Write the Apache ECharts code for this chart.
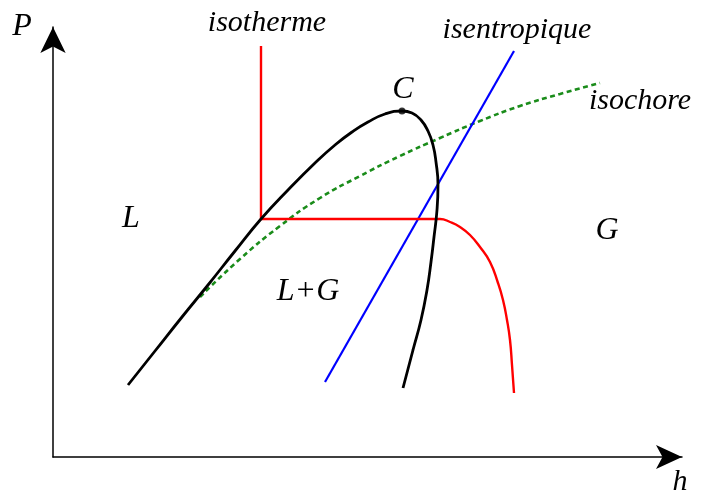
<!DOCTYPE html>
<html>
<head>
<meta charset="utf-8">
<script src="https://cdn.jsdelivr.net/npm/echarts@6/dist/echarts.min.js"></script>
<style>
  html, body { margin: 0; padding: 0; background: #fff; }
  #chart { width: 711px; height: 490px; }
</style>
</head>
<body>
<div id="chart"></div>
<script>
// Schematic pressure–enthalpy (P–h) diagram, arbitrary units.

// Saturation dome: liquid branch up to the critical point C, then vapour branch down.
const domeH = [75, 102, 129, 155, 182, 208, 235, 263, 282, 299, 315, 332, 349, 359, 368, 375, 380, 383, 385, 384, 381, 378, 374, 368, 360, 350];
const domeP = [72, 106, 140, 172, 206, 238, 267, 295, 312, 325, 335, 343, 346, 344, 337, 326, 312, 295, 272, 247, 220, 195, 167, 137, 107, 69];

// Critical point
const critH = [349];
const critP = [346];

// Isotherm: compressed liquid (vertical), two-phase plateau, then superheated vapour.
const isoTStraightH = [208, 208, 377];
const isoTStraightP = [411, 238, 238];
const isoTVapourH = [377, 387, 397, 407, 417, 427, 437, 445, 450, 454, 457, 459, 461];
const isoTVapourP = [238, 238, 235, 230, 222, 210, 195, 174, 157, 137, 117, 92, 64];

// Isentrope
const isoSH = [272, 461];
const isoSP = [75, 406];

// Isochore
const isoVH = [147, 187, 227, 267, 307, 347, 387, 427, 467, 507, 547];
const isoVP = [160, 198, 231, 259, 281, 301, 319, 336, 351, 363, 374];

// Text annotations
const labelTexts = ['P', 'h', 'isotherme', 'isentropique', 'isochore', 'C', 'L', 'L+G', 'G'];

const zip = (xs, ys) => xs.map((x, i) => [x, ys[i]]);

const chart = echarts.init(document.getElementById('chart'), null, { renderer: 'canvas' });

const serif = '"Liberation Serif", "DejaVu Serif", serif';
const textStyle = (text, x, y, size) => ({
  type: 'text',
  x: x,
  y: y,
  style: {
    text: text,
    fill: '#000',
    font: 'italic ' + (size || 30) + 'px ' + serif,
    textAlign: 'center',
    textVerticalAlign: 'middle'
  },
  silent: true
});

const option = {
  animation: false,
  backgroundColor: '#fff',
  grid: { left: 53, right: 29, top: 27, bottom: 33, containLabel: false },
  xAxis: {
    type: 'value', min: 0, max: 629,
    axisLine: { show: true, onZero: false, symbol: ['none', 'arrow'], symbolSize: [18, 26], lineStyle: { color: '#000', width: 1.5 } },
    axisTick: { show: false }, axisLabel: { show: false }, splitLine: { show: false }
  },
  yAxis: {
    type: 'value', min: 0, max: 430,
    axisLine: { show: true, onZero: false, symbol: ['none', 'arrow'], symbolSize: [19, 26], lineStyle: { color: '#000', width: 1.5 } },
    axisTick: { show: false }, axisLabel: { show: false }, splitLine: { show: false }
  },
  series: [
    {
      name: 'isochore', type: 'line', data: zip(isoVH, isoVP), smooth: 0.5, symbol: 'none',
      lineStyle: { color: '#1a8c1a', width: 2.6, type: [5, 3.5] }, z: 2
    },
    {
      name: 'isentropique', type: 'line', data: zip(isoSH, isoSP), symbol: 'none',
      lineStyle: { color: '#0000ff', width: 2.2 }, z: 3
    },
    {
      name: 'isotherme', type: 'line', data: zip(isoTStraightH, isoTStraightP), symbol: 'none',
      lineStyle: { color: '#ff0000', width: 2.4 }, z: 3
    },
    {
      name: 'isotherme-vapeur', type: 'line', data: zip(isoTVapourH, isoTVapourP), smooth: 0.5, symbol: 'none',
      lineStyle: { color: '#ff0000', width: 2.4 }, z: 3
    },
    {
      name: 'saturation', type: 'line', data: zip(domeH, domeP), smooth: 0.5, symbol: 'none',
      lineStyle: { color: '#000', width: 2.8 }, z: 4
    },
    {
      name: 'C', type: 'scatter', data: zip(critH, critP), symbol: 'circle', symbolSize: 7,
      itemStyle: { color: '#000' }, z: 5
    }
  ],
  graphic: [
    textStyle(labelTexts[0], 22, 27, 32),
    textStyle(labelTexts[1], 680, 482),
    textStyle(labelTexts[2], 267, 23),
    textStyle(labelTexts[3], 517, 30),
    textStyle(labelTexts[4], 640, 101),
    textStyle(labelTexts[5], 403, 90, 32),
    textStyle(labelTexts[6], 131, 219, 32),
    textStyle(labelTexts[7], 308, 292, 32),
    textStyle(labelTexts[8], 607, 231, 32)
  ]
};

chart.setOption(option);
</script>
</body>
</html>
